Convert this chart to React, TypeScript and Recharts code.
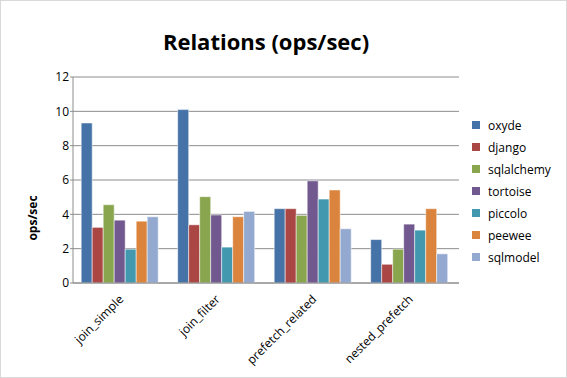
import { BarChart, Bar, XAxis, YAxis, CartesianGrid } from 'recharts'

const categories = ['join_simple', 'join_filter', 'prefetch_related', 'nested_prefetch']
const series = ['oxyde', 'django', 'sqlalchemy', 'tortoise', 'piccolo', 'peewee', 'sqlmodel']
const colors = ['#4572A7', '#AA4643', '#89A54E', '#71588F', '#4198AF', '#DB843D', '#93A9CF']

const oxyde = [9.32, 10.1, 4.33, 2.53]
const django = [3.24, 3.39, 4.33, 1.09]
const sqlalchemy = [4.56, 5.03, 3.94, 1.97]
const tortoise = [3.66, 3.96, 5.95, 3.43]
const piccolo = [1.97, 2.09, 4.89, 3.08]
const peewee = [3.6, 3.86, 5.42, 4.33]
const sqlmodel = [3.86, 4.17, 3.16, 1.7]

const yTicks = [0, 2, 4, 6, 8, 10, 12]

const values = [oxyde, django, sqlalchemy, tortoise, piccolo, peewee, sqlmodel]
const data = categories.map((name, i) => {
  const row: Record<string, string | number> = { name }
  series.forEach((s, j) => {
    row[s] = values[j][i]
  })
  return row
})

const FONT = '"Open Sans", sans-serif'

function XTick({ x, y, payload }: any) {
  return (
    <g transform={`translate(${x},${y + 6}) rotate(-45)`}>
      <text textAnchor="end" dy="0.35em" fontSize={12} fill="#000" fontFamily={FONT}>
        {payload.value}
      </text>
    </g>
  )
}

// axis title sits a bit below the plot's middle in the original
function YTitle() {
  return (
    <text
      transform="translate(37,218) rotate(-90)"
      textAnchor="middle"
      fontSize={12}
      fontWeight={700}
      fill="#000"
      fontFamily={FONT}
    >
      ops/sec
    </text>
  )
}

// legend is plain html so it doesn't eat into the plot width
function LegendBox() {
  return (
    <div style={{ position: 'absolute', left: 472, top: 114, fontFamily: FONT, fontSize: 12, color: '#000' }}>
      {series.map((s, i) => (
        <div key={s} style={{ display: 'flex', alignItems: 'center', height: 22 }}>
          <span style={{ width: 8, height: 8, background: colors[i], marginRight: 8, display: 'inline-block' }} />
          <span>{s}</span>
        </div>
      ))}
    </div>
  )
}

export default function App() {
  return (
    <div style={{ position: 'relative', width: 567, height: 378, background: '#fff' }}>
      <style>{'body{margin:0}'}</style>
      <div
        style={{
          position: 'absolute',
          top: 26,
          left: 73,
          width: 386,
          textAlign: 'center',
          fontFamily: FONT,
          fontWeight: 700,
          fontSize: 22,
          lineHeight: '30px',
          color: '#000',
        }}
      >
        Relations (ops/sec)
      </div>
      <BarChart
        width={567}
        height={378}
        data={data}
        margin={{ top: 77, right: 108, bottom: 0, left: 0 }}
        barGap={0}
        barCategoryGap="8.5%"
      >
        <CartesianGrid vertical={false} stroke="#8c8c8c" strokeWidth={1} />
        <XAxis
          dataKey="name"
          height={95}
          tick={<XTick />}
          tickLine={false}
          axisLine={{ stroke: '#8c8c8c' }}
          interval={0}
        />
        <YAxis
          width={73}
          domain={[0, 12]}
          ticks={yTicks}
          tickLine={{ stroke: '#8c8c8c' }}
          tickSize={3}
          tickMargin={1}
          axisLine={{ stroke: '#8c8c8c' }}
          tick={{ fontSize: 12, fill: '#000', fontFamily: FONT }}
          label={{ content: () => <YTitle /> }}
        />
        {series.map((s, i) => (
          <Bar
            key={s}
            dataKey={s}
            fill={colors[i]}
            stroke="#ffffff"
            strokeOpacity={0.5}
            strokeWidth={1}
            isAnimationActive={false}
          />
        ))}
      </BarChart>
      <LegendBox />
      <div
        style={{
          position: 'absolute',
          inset: 0,
          border: '1px solid #d9d9d9',
          pointerEvents: 'none',
        }}
      />
    </div>
  )
}
